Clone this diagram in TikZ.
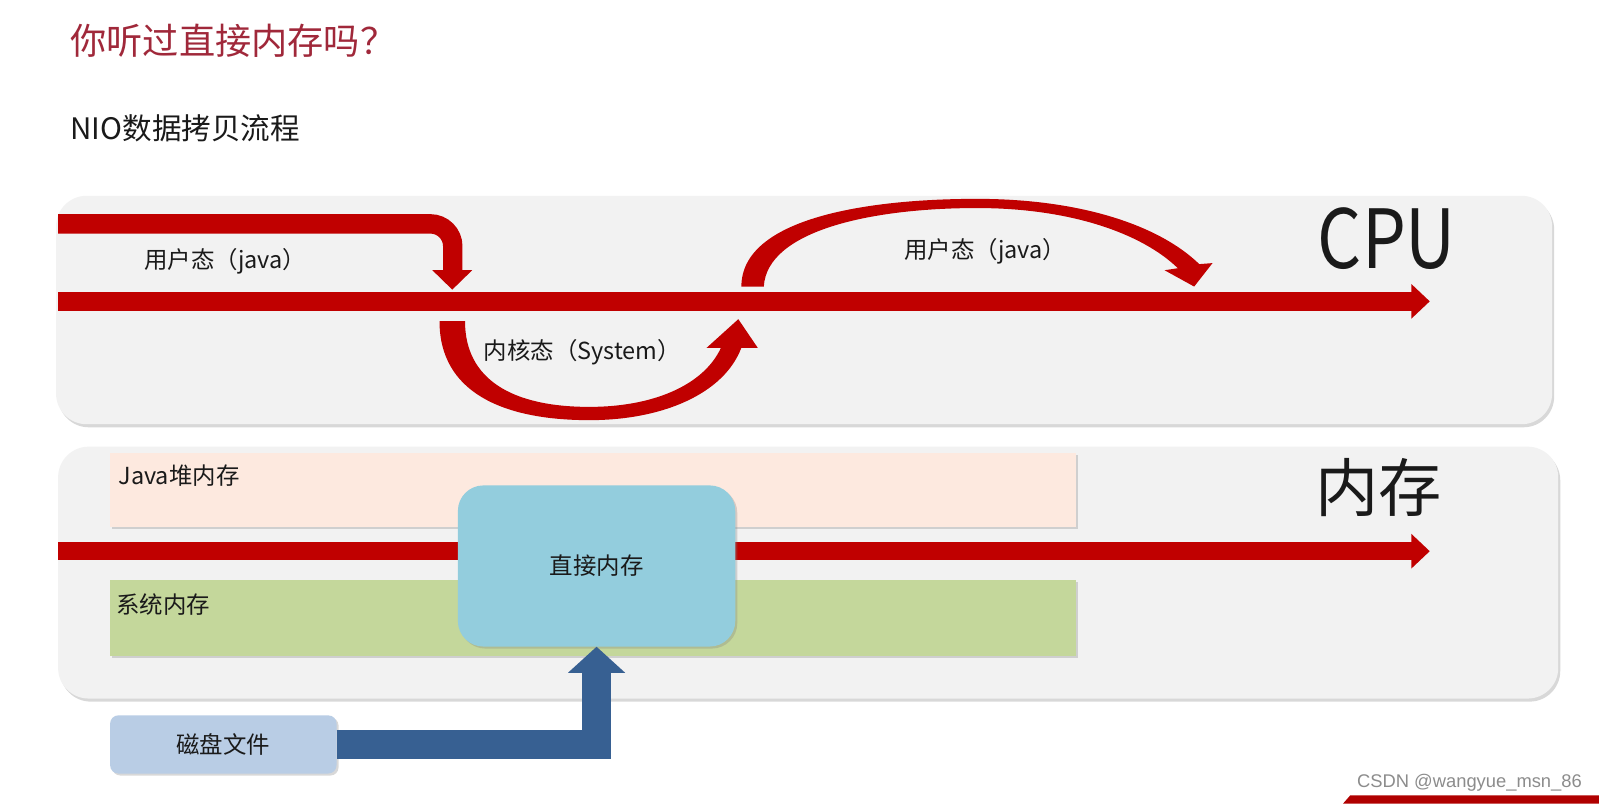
\documentclass[tikz,border=0pt]{standalone}
\usepackage{fontspec}
\setmainfont{Noto Sans CJK SC}
\newfontfamily\wmfont{Liberation Sans}
\usetikzlibrary{shadows,calc}
\definecolor{panelgray}{HTML}{F2F2F2}
\definecolor{arrowred}{HTML}{C00000}
\definecolor{titlered}{HTML}{A0283A}
\definecolor{heapfill}{HTML}{FDE9DF}
\definecolor{sysfill}{HTML}{C4D79B}
\definecolor{directfill}{HTML}{93CDDD}
\definecolor{diskfill}{HTML}{B9CDE5}
\definecolor{bluearrow}{HTML}{376092}
\definecolor{txt}{HTML}{1A1A1A}
\definecolor{bannerred}{HTML}{B00000}
\begin{document}
\begin{tikzpicture}[x=1pt,y=-1pt,
  panel/.style={fill=panelgray, rounded corners=30pt, inner sep=0pt,
    drop shadow={shadow xshift=2pt,shadow yshift=-3pt,opacity=0.3}},
  memrect/.style={inner sep=0pt,
    drop shadow={shadow xshift=2pt,shadow yshift=-2pt,opacity=0.3}},
  lbl/.style={font=\fontsize{23}{27}\selectfont, text=txt, inner sep=0pt},
  bigl/.style={text=txt, inner sep=0pt},
  redshaft/.style={draw=arrowred, line width=18pt},
  redhead/.style={fill=arrowred},
]
\useasboundingbox (0,0) rectangle (1568,788);
\fill[white] (0,0) rectangle (1568,788);

% titles
\node[anchor=west, text=titlered, inner sep=0pt, font=\fontsize{35.5}{40}\selectfont] (title) at (69,40) {你听过直接内存吗？};
\node[anchor=west, text=txt, inner sep=0pt, font=\fontsize{29}{32}\selectfont] (sub) at (69,126) {NIO数据拷贝流程};

% panels
\node[panel, minimum width=1467pt, minimum height=224pt] (cpu) at (788.5,304) {};
\node[panel, minimum width=1471pt, minimum height=247pt] (mem) at (792.5,561.5) {};

% CPU main arrow
\coordinate (cpuL) at (57,295.5);
\coordinate (cpuR) at (1385,295.5);
\draw[redshaft] (cpuL) -- (cpuR);
\fill[redhead] (1384,278.5) -- (1402,295.5) -- (1384,312.5) -- cycle;

% top-left arrow
\coordinate (tlA) at (57,219.5);
\coordinate (tlB) at (444,219.5);
\coordinate (tlC) at (444,267);
\draw[draw=arrowred, line width=19pt, rounded corners=22pt] (tlA) -- (tlB) -- (tlC);
\fill[redhead] (424,265) -- (463,265) -- (443.5,284) -- cycle;

% kernel U arrow
\fill[arrowred] (431,315) .. controls (431,384) and (492,412) .. (578,412)
  .. controls (650,412) and (710,386) .. (727,341)
  -- (743,341) -- (724,313) -- (693,341) -- (707,341)
  .. controls (690,378) and (640,399) .. (578,399)
  .. controls (502,399) and (456,372) .. (456,315) -- cycle;

% upper arc arrow
\fill[arrowred] (727,281) .. controls (727,214) and (850,195) .. (958,195)
  .. controls (1062,195) and (1138,222) .. (1176,259)
  -- (1189,258) -- (1171,281) -- (1142,265) -- (1155,263)
  .. controls (1120,229) and (1050,204) .. (958,204)
  .. controls (855,204) and (752,226) .. (749,281) -- cycle;

% CPU labels
\node[lbl] (u1) at (221,256) {用户态（java）};
\node[lbl] (k1) at (571,345) {内核态（System）};
\node[lbl] (u2) at (966,246) {用户态（java）};
\node[bigl, font=\fontsize{80}{90}\selectfont] (cpulbl) at (1360,234) {\scalebox{0.85}[1]{CPU}};

% memory rects
\node[memrect, fill=heapfill, minimum width=947pt, minimum height=73pt] (heap) at (581.5,480.5) {};
\node[memrect, fill=sysfill, minimum width=947pt, minimum height=74pt] (sys) at (581.5,606) {};
\node[lbl, anchor=west] (heaplbl) at (116,466) {Java堆内存};
\node[lbl, anchor=west] (syslbl) at (114,593) {系统内存};

% memory red arrow
\coordinate (memL) at (57,540.5);
\coordinate (memR) at (1385,540.5);
\draw[redshaft] (memL) -- (memR);
\fill[redhead] (1384,523.5) -- (1402,540.5) -- (1384,557.5) -- cycle;

% direct memory
\node[memrect, fill=directfill, rounded corners=25pt, minimum width=272pt, minimum height=158pt] (direct) at (585,555) {};
\node[lbl] (directlbl) at (585,555) {直接内存};
\node[bigl, font=\fontsize{62}{70}\selectfont] (memlbl) at (1352,478) {内存};

% disk
\node[memrect, fill=diskfill, rounded corners=8pt, minimum width=222pt, minimum height=57pt] (disk) at (219,730) {};
\node[lbl] (disklbl) at (219,730) {磁盘文件};

% blue arrow
\draw[draw=bluearrow, line width=29pt] (disk.east) -| ($(direct.south)+(0,25)$);
\fill[bluearrow] (direct.south) -- ++(-28,25.5) -- ++(56,0) -- cycle;

% watermark and banner
\node[text=black!45, inner sep=0pt, font=\wmfont\fontsize{18}{20}\selectfont] (wm) at (1441,768) {CSDN @wangyue\_msn\_86};
\fill[bannerred] (1317,788) -- (1324,780) -- (1568,780) -- (1568,788) -- cycle;
\end{tikzpicture}
\end{document}
